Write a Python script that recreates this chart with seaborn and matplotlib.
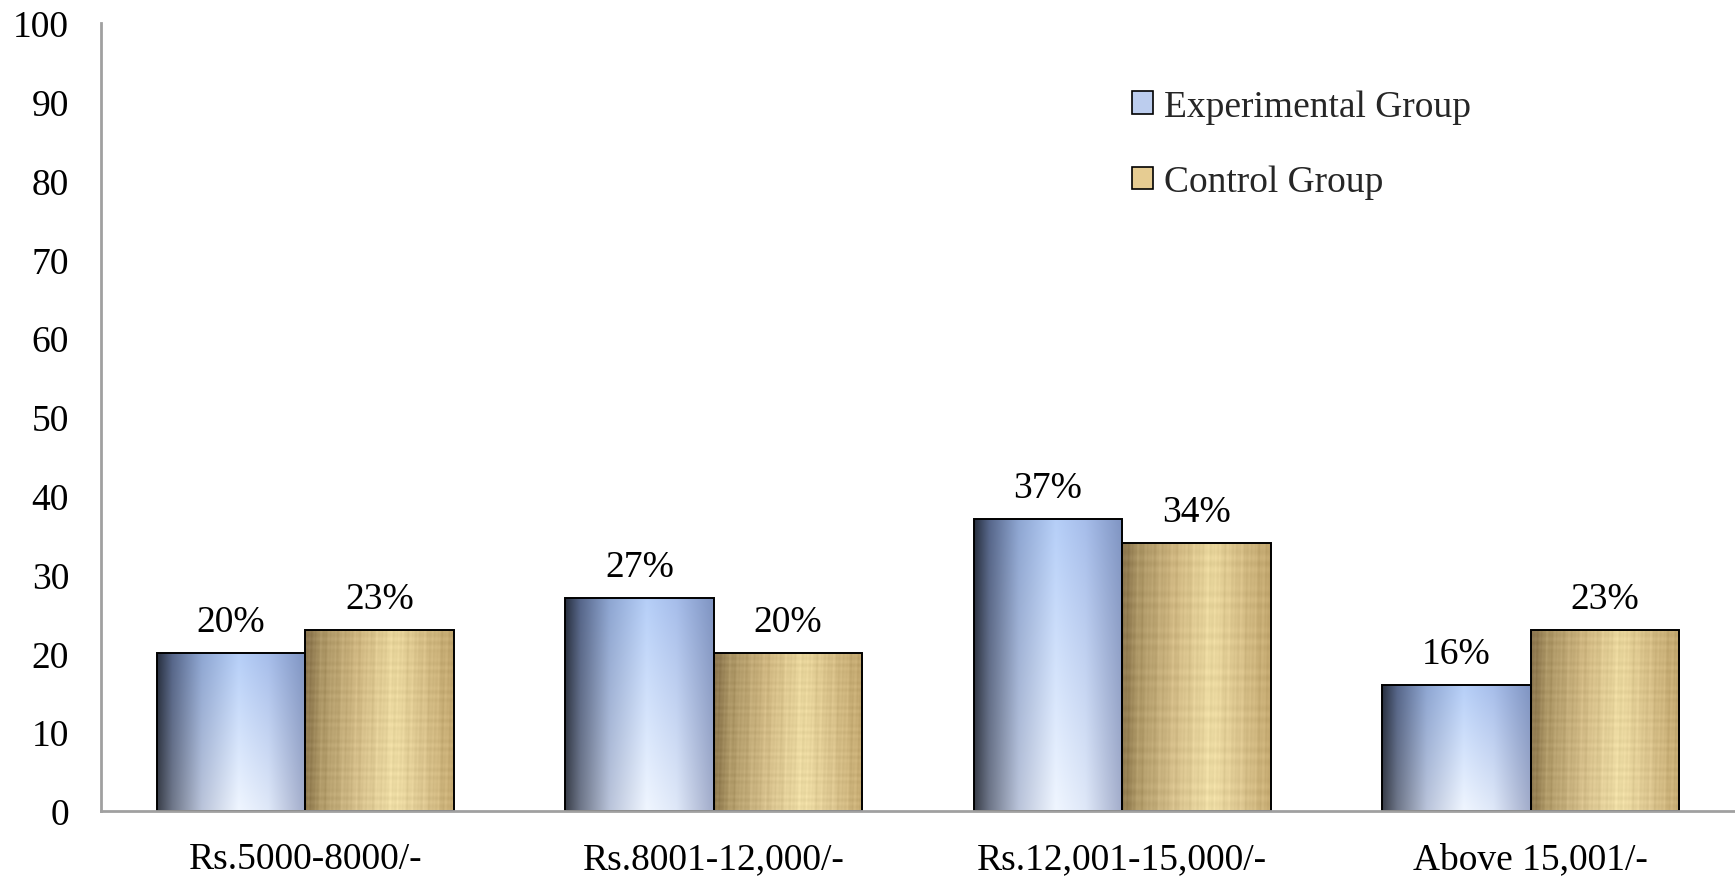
import numpy as np
import pandas as pd
import matplotlib
matplotlib.use("Agg")
import matplotlib.pyplot as plt
from matplotlib.colors import to_rgb
from matplotlib.patches import Patch
import seaborn as sns

# Monthly family income distribution (%)
categories = ["Rs.5000-8000/-", "Rs.8001-12,000/-", "Rs.12,001-15,000/-", "Above 15,001/-"]
experimental = [20, 27, 37, 16]
control = [23, 20, 34, 23]
groups = ["Experimental Group", "Control Group"]

df = pd.DataFrame({
    "Income": categories * 2,
    "Percent": experimental + control,
    "Group": [groups[0]] * len(categories) + [groups[1]] * len(categories),
})

sns.set_theme(style="white")
plt.rcParams["font.family"] = ["Liberation Serif", "DejaVu Serif"]

FS = 27

fig = plt.figure(figsize=(17.35, 8.78), dpi=100)
ax = fig.add_axes([0.0582, 0.0752, 0.9418, 0.8975])

sns.barplot(data=df, x="Income", y="Percent", hue="Group", hue_order=groups,
            order=categories, width=0.728, gap=0, ax=ax, legend=False,
            palette=["#b8cbee", "#e2c98e"], edgecolor="black", linewidth=1.4,
            errorbar=None)


def profile(stops, n):
    xs = np.linspace(0, 1, n)
    pos = [s[0] for s in stops]
    cols = np.array([to_rgb(s[1]) for s in stops])
    return np.stack([np.interp(xs, pos, cols[:, k]) for k in range(3)], axis=-1)


def shaded(top_stops, bottom_stops, nx=120, ny=200):
    top = profile(top_stops, nx)
    bot = profile(bottom_stops, nx)
    t = np.linspace(0, 1, ny)[:, None, None]
    return top[None, :, :] * (1 - t) + bot[None, :, :] * t


blue_img = shaded(
    [(0.0, "#283040"), (0.1, "#56668a"), (0.3, "#8ea6d2"), (0.55, "#b6cff8"),
     (0.75, "#a6bdea"), (1.0, "#7f94c2")],
    [(0.0, "#3a3f4a"), (0.1, "#6e7688"), (0.3, "#bac4da"), (0.55, "#f0f6ff"),
     (0.75, "#dfe8f8"), (1.0, "#a2acca")],
)

tan_img = shaded(
    [(0.0, "#86704a"), (0.1, "#a89262"), (0.35, "#cdb47e"), (0.6, "#e9d69c"),
     (0.8, "#d4bc84"), (1.0, "#bfa46c")],
    [(0.0, "#8c774c"), (0.1, "#b09a68"), (0.35, "#d6c08c"), (0.6, "#efdea6"),
     (0.8, "#dcc690"), (1.0, "#c6ab72")],
)
# woven-paper streaks
yy, xx = np.mgrid[0:tan_img.shape[0], 0:tan_img.shape[1]]
weave = (0.025 * np.sin(xx * 0.9) * np.sin(xx * 0.23 + 1.3)
         + 0.02 * np.sin(yy * 0.7 + 0.5) * np.sin(yy * 0.11)
         + 0.015 * np.sin(xx * 2.1 + yy * 0.05))
tan_img = np.clip(tan_img + weave[:, :, None], 0, 1)

n = len(categories)
for i, bar in enumerate(ax.patches):
    img = blue_img if i < n else tan_img
    x0, w, h = bar.get_x(), bar.get_width(), bar.get_height()
    im = ax.imshow(img, extent=[x0, x0 + w, 0, h], aspect="auto",
                   origin="upper", zorder=1.5, interpolation="bilinear")
    im.set_clip_path(bar)
    bar.set_facecolor("none")
    bar.set_zorder(2)
    ax.text(x0 + w / 2, h + 1.8, f"{h:g}%", ha="center", va="bottom",
            fontsize=FS, color="black")

ax.set_xlim(-0.5, 3.5)
ax.set_ylim(0, 100)
ax.set_yticks(range(0, 101, 10))
ax.set_xlabel("")
ax.set_ylabel("")
ax.tick_params(axis="both", length=0, labelsize=FS, colors="black")
ax.tick_params(axis="y", pad=23)
ax.tick_params(axis="x", pad=22)

for side in ("top", "right"):
    ax.spines[side].set_visible(False)
for side in ("left", "bottom"):
    ax.spines[side].set_color("#a0a0a0")
    ax.spines[side].set_linewidth(2)

handles = [Patch(facecolor="#bccdee", edgecolor="black", linewidth=1.2),
           Patch(facecolor="#e6cc92", edgecolor="black", linewidth=1.2)]
ax.legend(handles, groups, loc="upper left", bbox_to_anchor=(0.622, 0.935),
          frameon=False, fontsize=FS, handlelength=0.55, handleheight=0.55,
          handletextpad=0.3, labelspacing=1.1, borderaxespad=0)

fig.savefig("out.png", dpi=100)
